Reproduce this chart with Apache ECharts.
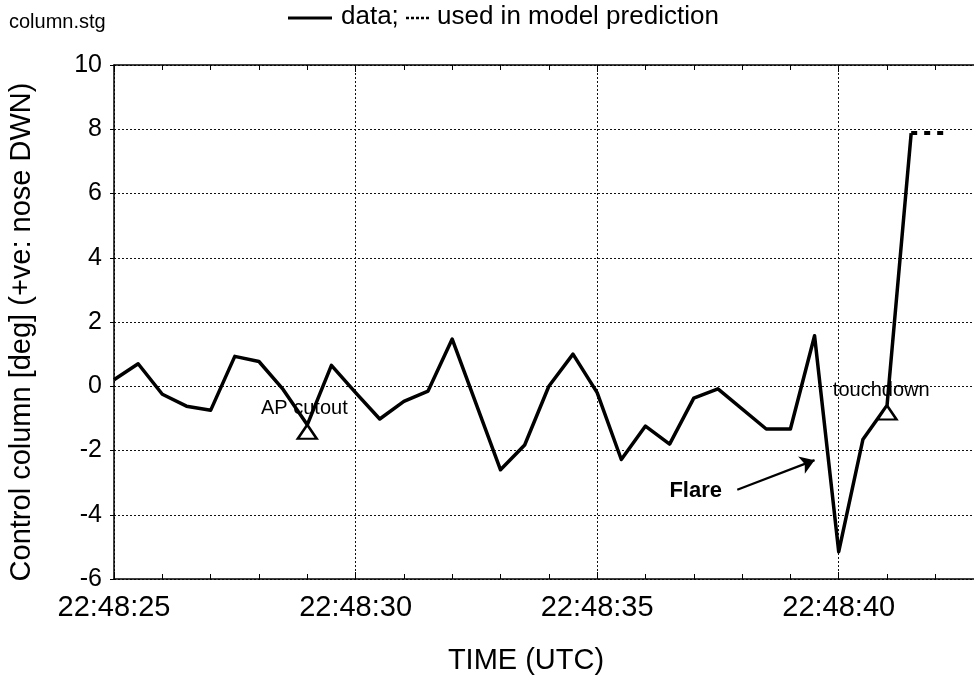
<!DOCTYPE html>
<html><head><meta charset="utf-8">
<script src="https://cdn.jsdelivr.net/npm/echarts@6/dist/echarts.min.js"></script>
<style>html,body{margin:0;padding:0;background:#fff}#c{width:974px;height:682px}</style>
</head><body><div id="c"></div>
<script>
// time in seconds after 22:48:00 UTC
const timeSec   = [25, 25.5, 26, 26.5, 27, 27.5, 28, 28.5, 29, 29.5, 30, 30.5, 31, 31.5, 32, 33, 33.5, 34, 34.5, 35, 35.5, 36, 36.5, 37, 37.5, 38.5, 39, 39.5, 40, 40.5, 41, 41.5];
const columnDeg = [0.2, 0.7, -0.25, -0.62, -0.75, 0.93, 0.77, -0.1, -1.2, 0.65, -0.2, -1.02, -0.47, -0.15, 1.47, -2.6, -1.83, 0.0, 1.0, -0.2, -2.28, -1.24, -1.8, -0.37, -0.08, -1.33, -1.33, 1.57, -5.15, -1.66, -0.6, 7.88];
const predTime = [41.5, 42.3];
const predDeg  = [7.88, 7.88];
const eventTime  = [29, 41];
const eventDeg   = [-1.2, -0.6];
const eventNames = ['AP cutout', 'touchdown'];
const xTickLabels = {25: '22:48:25', 30: '22:48:30', 35: '22:48:35', 40: '22:48:40'};

const FONT = '"Liberation Sans", Arial, sans-serif';
const chart = echarts.init(document.getElementById('c'), null, {renderer: 'canvas'});
const dotted = {type: [2, 2], color: '#111', width: 1};

chart.setOption({
  animation: false,
  backgroundColor: '#fff',
  grid: {left: 114, top: 65, right: 0, bottom: 103, containLabel: false},
  xAxis: [{
    type: 'value', min: 25, max: 42.8, interval: 5,
    axisLine: {show: true, onZero: false, lineStyle: {color: '#000', width: 1.5}},
    axisTick: {show: true, inside: true, length: 7, lineStyle: {color: '#000'}},
    minorTick: {show: true, splitNumber: 5, length: 5, lineStyle: {color: '#000'}},
    splitLine: {show: true, lineStyle: dotted},
    axisLabel: {show: true, showMaxLabel: false, fontSize: 29, fontFamily: FONT, color: '#000', margin: 14,
      formatter: v => xTickLabels[v] || ''}
  }, {
    type: 'value', position: 'top', min: 25, max: 42.8, interval: 5,
    axisLine: {show: true, onZero: false, lineStyle: {color: '#000', width: 1.5}},
    axisTick: {show: true, inside: true, length: 7, lineStyle: {color: '#000'}},
    minorTick: {show: true, splitNumber: 5, length: 5, lineStyle: {color: '#000'}},
    splitLine: {show: false},
    axisLabel: {show: false}
  }],
  yAxis: {
    type: 'value', min: -6, max: 10, interval: 2,
    axisLine: {show: true, onZero: false, lineStyle: {color: '#000', width: 1.5}},
    axisTick: {show: true, inside: false, length: 4, lineStyle: {color: '#000'}},
    splitLine: {show: true, lineStyle: dotted},
    axisLabel: {fontSize: 25, fontFamily: FONT, color: '#000', margin: 12}
  },
  series: [{
    type: 'line',
    data: timeSec.map((t, i) => [t, columnDeg[i]]),
    symbol: 'none',
    lineStyle: {color: '#000', width: 3.5, join: 'round'},
    z: 3,
    markLine: {
      silent: true,
      symbol: ['none', 'arrow'],
      symbolSize: 14,
      lineStyle: {color: '#000', width: 2.2, type: 'solid'},
      label: {show: false},
      emphasis: {disabled: true},
      data: [[{coord: [37.9, -3.22], symbol: 'none'}, {coord: [39.5, -2.3], symbol: 'arrow', symbolSize: 14}]]
    },
    markPoint: {
      silent: true,
      symbol: 'circle', symbolSize: 0,
      data: [
        {coord: [37.04, -3.25], label: {show: true, position: 'inside', formatter: 'Flare', fontSize: 22, fontWeight: 'bold', fontFamily: FONT, color: '#000'}}
      ]
    }
  }, {
    type: 'line',
    data: predTime.map((t, i) => [t, predDeg[i]]),
    symbol: 'none',
    lineStyle: {color: '#000', width: 4, type: [6, 7]},
    z: 3
  }, {
    type: 'scatter',
    data: eventTime.map((t, i) => ({value: [t, eventDeg[i]], name: eventNames[i]})),
    symbol: 'triangle',
    symbolSize: [19, 14],
    symbolOffset: [0, 7],
    itemStyle: {color: '#fff', borderColor: '#000', borderWidth: 2.4, opacity: 1},
    z: 4,
    markPoint: {
      silent: true,
      symbol: 'circle', symbolSize: 0,
      label: {show: true, position: 'inside', fontSize: 20, fontFamily: FONT, color: '#000'},
      data: [
        {coord: [28.94, -0.70], label: {formatter: eventNames[0]}},
        {coord: [40.88, -0.14], label: {formatter: eventNames[1]}}
      ]
    }
  }],
  graphic: [
    {type: 'text', left: 9, top: 12, style: {text: 'column.stg', font: '20px ' + FONT, fill: '#000'}},
    {type: 'line', shape: {x1: 288, y1: 18, x2: 332, y2: 18}, style: {stroke: '#000', lineWidth: 3}},
    {type: 'text', x: 341, y: 17, style: {text: 'data;', font: '26px ' + FONT, fill: '#000', textVerticalAlign: 'middle'}},
    {type: 'line', shape: {x1: 406, y1: 18, x2: 429, y2: 18}, style: {stroke: '#000', lineWidth: 2.5, lineDash: [3, 2]}},
    {type: 'text', x: 437, y: 17, style: {text: 'used in model prediction', font: '26px ' + FONT, fill: '#000', textVerticalAlign: 'middle'}},
    {type: 'text', x: 526, y: 661, style: {text: 'TIME (UTC)', font: '29px ' + FONT, fill: '#000', textAlign: 'center', textVerticalAlign: 'middle'}},
    {type: 'text', x: 22, y: 332, rotation: Math.PI / 2, style: {text: 'Control column [deg] (+ve: nose DWN)', font: '29px ' + FONT, fill: '#000', textAlign: 'center', textVerticalAlign: 'middle'}}
  ]
});
</script>
</body></html>
